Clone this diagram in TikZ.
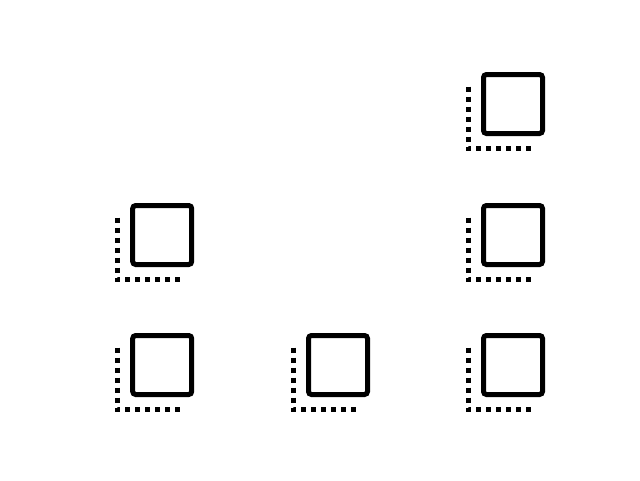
\documentclass[tikz,border=0pt]{standalone}
\usepackage{tikz}
\usetikzlibrary{positioning}

\tikzset{
  tilebox/.style={draw=black, line width=5pt, rounded corners=3pt, minimum size=59pt, inner sep=0pt, outer sep=0pt},
  tiledots/.style={draw=black, line width=5pt, dash pattern=on 5pt off 5pt}
}

\begin{document}
\begin{tikzpicture}[x=1pt,y=-1pt]
      \useasboundingbox[fill=white] (0,0) rectangle (640,480);
      \foreach \name/\tx/\ty in {a/162.2/235, b/162.2/365, c/338/365, d/513/365, e/513/235, f/513/104} {
        \node[tilebox] (\name) at (\tx,\ty) {};
        % corner first, so both rows of dots share it
        \draw[tiledots] ([xshift=-44.5pt,yshift=17.5pt]\name.center) |- ([xshift=17.5pt,yshift=-44.8pt]\name.center);
      }
    \end{tikzpicture}
\end{document}
